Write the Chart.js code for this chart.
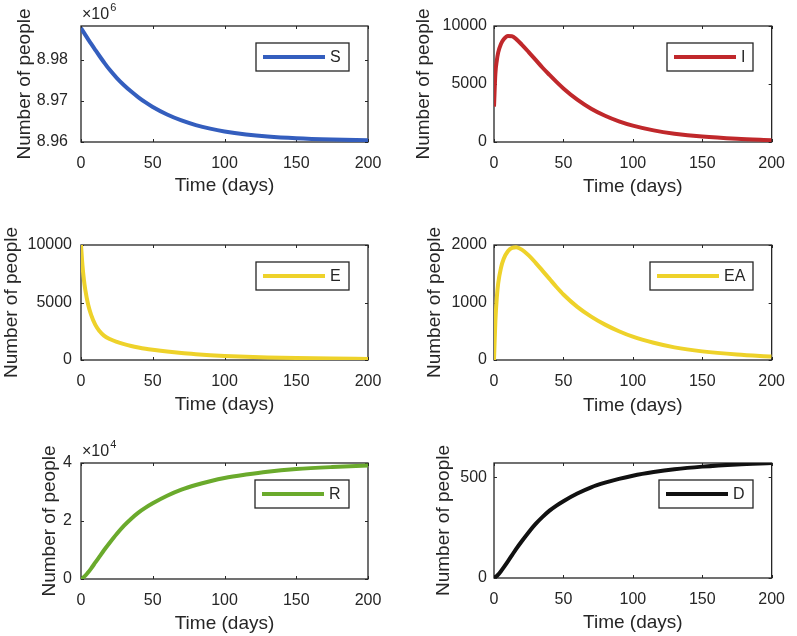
<!DOCTYPE html>
<html>
<head>
<meta charset="utf-8">
<script src="https://cdn.jsdelivr.net/npm/chart.js@4/dist/chart.umd.min.js"></script>
<style>
  body { margin: 0; background: #fff; }
  #wrap { position: relative; width: 797px; height: 636px; }
  #wrap canvas { position: absolute; left: 0; top: 0; }
</style>
</head>
<body>
<div id="wrap">
  <canvas id="chart-s" width="797" height="636"></canvas>
  <canvas id="chart-i" width="797" height="636"></canvas>
  <canvas id="chart-e" width="797" height="636"></canvas>
  <canvas id="chart-ea" width="797" height="636"></canvas>
  <canvas id="chart-r" width="797" height="636"></canvas>
  <canvas id="chart-d" width="797" height="636"></canvas>
</div>
<script>
// values
const days        = [0, 1, 2, 3, 5, 7, 10, 13, 16, 20, 25, 30, 35, 40, 45, 50, 60, 70, 80, 90, 100, 115, 130, 150, 175, 200];
const susceptible = [8987800, 8987240, 8986680, 8986130, 8985050, 8983980, 8982440, 8980920, 8979450, 8977600, 8975600, 8973850, 8972300,
                     8970900, 8969650, 8968540, 8966700, 8965250, 8964130, 8963260, 8962580, 8961850, 8961350, 8960920, 8960600, 8960400];
const infected    = [3050, 5900, 7000, 7700, 8450, 8850, 9130, 9120, 8870, 8400, 7750, 7080, 6400,
                     5780, 5180, 4620, 3650, 2870, 2260, 1780, 1410, 1000, 720, 470, 280, 160];
const exposed     = [10000, 8250, 7000, 6100, 4800, 3950, 3050, 2500, 2120, 1820, 1570, 1380, 1220,
                     1090, 980, 890, 730, 600, 500, 415, 345, 275, 225, 175, 130, 95];
const exposedA    = [0, 680, 1080, 1330, 1600, 1760, 1890, 1950, 1960, 1920, 1820, 1690, 1550,
                     1410, 1270, 1140, 925, 755, 615, 500, 405, 300, 220, 150, 95, 60];
const recovered   = [0, 300, 700, 1150, 2300, 3600, 5700, 7800, 9900, 12500, 15600, 18400, 20800,
                     22900, 24600, 26100, 28700, 30800, 32400, 33700, 34800, 36000, 37000, 37900, 38600, 39100];
const deaths      = [0, 4, 10, 17, 34, 53, 83, 114, 145, 183, 228, 269, 304,
                     335, 360, 382, 420, 451, 474, 493, 509, 527, 541, 554, 565, 572];

const xTicks  = [0, 50, 100, 150, 200];
const sTicks  = [8960000, 8970000, 8980000];
const iTicks  = [0, 5000, 10000];
const eTicks  = [0, 5000, 10000];
const eaTicks = [0, 1000, 2000];
const rTicks  = [0, 20000, 40000];
const dTicks  = [0, 500];

const axisColor = '#262626';
const fontFamily = "'Liberation Sans', Arial, Helvetica, sans-serif";
Chart.defaults.font.family = fontFamily;
Chart.defaults.color = axisColor;

// box, inward ticks, exponent label and an in-axes legend, MATLAB style
const matlabAxes = {
    id: 'matlabAxes',
    beforeDatasetsDraw(chart, args, opts) {
        const {ctx, chartArea: a, scales: {x, y}} = chart;
        ctx.save();
        ctx.strokeStyle = axisColor;
        ctx.lineWidth = 1.3;
        ctx.strokeRect(a.left, a.top, a.right - a.left, a.bottom - a.top);
        ctx.lineWidth = 1;
        ctx.beginPath();
        x.ticks.forEach(t => {
            const px = Math.round(x.getPixelForValue(t.value)) + 0.5;
            ctx.moveTo(px, a.bottom); ctx.lineTo(px, a.bottom - 3);
            ctx.moveTo(px, a.top); ctx.lineTo(px, a.top + 3);
        });
        y.ticks.forEach(t => {
            const py = Math.round(y.getPixelForValue(t.value)) + 0.5;
            ctx.moveTo(a.left, py); ctx.lineTo(a.left + 3, py);
            ctx.moveTo(a.right, py); ctx.lineTo(a.right - 3, py);
        });
        ctx.stroke();
        if (opts.exponent) {
            ctx.fillStyle = axisColor;
            ctx.textBaseline = 'alphabetic';
            ctx.font = '16px ' + fontFamily;
            ctx.fillText('\u00d710', a.left + 1, a.top - 7);
            const w = ctx.measureText('\u00d710').width;
            ctx.font = '11px ' + fontFamily;
            ctx.fillText(opts.exponent, a.left + 2 + w, a.top - 15);
        }
        ctx.restore();
    },
    afterDatasetsDraw(chart) {
        const {ctx, chartArea: a} = chart;
        const ds = chart.data.datasets[0];
        ctx.save();
        ctx.font = '16px ' + fontFamily;
        const tw = ctx.measureText(ds.label).width;
        const w = Math.round(7 + 62 + 5 + tw + 8), h = 28;
        const bx = Math.round(a.right - 19 - w), by = Math.round(a.top + 17);
        ctx.fillStyle = '#fff';
        ctx.fillRect(bx, by, w, h);
        ctx.strokeStyle = axisColor;
        ctx.lineWidth = 1.3;
        ctx.strokeRect(bx, by, w, h);
        ctx.strokeStyle = ds.borderColor;
        ctx.lineWidth = 4;
        ctx.beginPath();
        ctx.moveTo(bx + 7, by + h / 2);
        ctx.lineTo(bx + 69, by + h / 2);
        ctx.stroke();
        ctx.fillStyle = axisColor;
        ctx.textBaseline = 'middle';
        ctx.fillText(ds.label, bx + 74, by + h / 2 + 1);
        ctx.restore();
    }
};

function makePanel(id, label, values, color, yMin, yMax, yTicks, box, fmt, exponent) {
    const titleHalf = 19 * 1.2 / 2;
    const padLeft = Math.max(0, box.yTitleX - titleHalf);
    const xHeight = box.xTitleY + titleHalf - box.b;
    return new Chart(document.getElementById(id), {
        type: 'line',
        data: {
            datasets: [{
                label: label,
                data: days.map((d, i) => ({x: d, y: values[i]})),
                borderColor: color,
                borderWidth: 4,
                pointRadius: 0,
                cubicInterpolationMode: 'monotone',
                fill: false
            }]
        },
        options: {
            responsive: false,
            animation: false,
            events: [],
            layout: {
                padding: {left: padLeft, top: box.t, right: 797 - box.r, bottom: 636 - box.b - xHeight}
            },
            plugins: {
                legend: {display: false},
                tooltip: {enabled: false},
                matlabAxes: {exponent: exponent}
            },
            scales: {
                x: {
                    type: 'linear',
                    min: 0,
                    max: 200,
                    afterBuildTicks: s => { s.ticks = xTicks.map(v => ({value: v})); },
                    afterFit: s => { s.height = xHeight; },
                    grid: {display: false, drawTicks: false},
                    border: {display: false},
                    ticks: {font: {size: 16}, padding: 12, maxRotation: 0, autoSkip: false, callback: v => String(v)},
                    title: {display: true, text: 'Time (days)', font: {size: 19}, padding: 0}
                },
                y: {
                    min: yMin,
                    max: yMax,
                    afterBuildTicks: s => { s.ticks = yTicks.map(v => ({value: v})); },
                    afterFit: s => { s.width = box.l - padLeft; },
                    grid: {display: false, drawTicks: false},
                    border: {display: false},
                    ticks: {font: {size: 16}, padding: box.pad, autoSkip: false, callback: fmt},
                    title: {display: true, text: 'Number of people', font: {size: 19}, padding: 0}
                }
            }
        },
        plugins: [matlabAxes]
    });
}

const plain = v => String(v);

window.sChart  = makePanel('chart-s', 'S', susceptible, '#345ebe', 8960000, 8988300, sTicks,
    {l: 81, t: 26, r: 368, b: 142, yTitleX: 25, xTitleY: 186, pad: 13}, v => (v / 1e6).toFixed(2), '6');
window.iChart  = makePanel('chart-i', 'I', infected, '#c0282b', 0, 10000, iTicks,
    {l: 494, t: 26, r: 780, b: 142, yTitleX: 423.5, xTitleY: 187, pad: 7}, plain);
window.eChart  = makePanel('chart-e', 'E', exposed, '#eed22a', 0, 10000, eTicks,
    {l: 81, t: 245, r: 368, b: 360, yTitleX: 11, xTitleY: 405, pad: 9}, plain);
window.eaChart = makePanel('chart-ea', 'EA', exposedA, '#eed22a', 0, 2000, eaTicks,
    {l: 494, t: 245, r: 780, b: 360, yTitleX: 434.5, xTitleY: 405.5, pad: 7}, plain);
window.rChart  = makePanel('chart-r', 'R', recovered, '#6aaa2c', 0, 40000, rTicks,
    {l: 81, t: 463, r: 368, b: 579, yTitleX: 49.5, xTitleY: 623.5, pad: 9}, v => String(v / 1e4), '4');
window.dChart  = makePanel('chart-d', 'D', deaths, '#111111', 0, 572, dTicks,
    {l: 494, t: 463, r: 780, b: 578, yTitleX: 444, xTitleY: 623, pad: 7}, plain);
</script>
</body>
</html>
